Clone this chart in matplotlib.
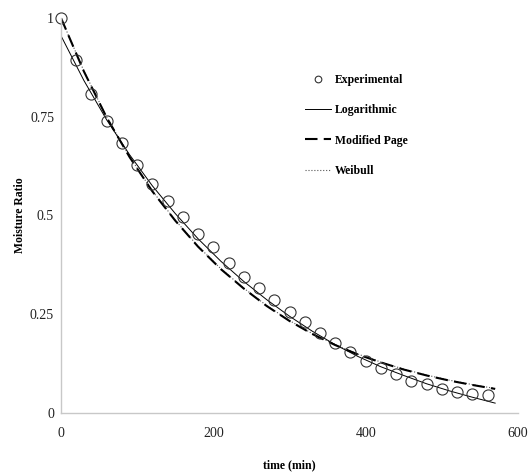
import matplotlib.pyplot as plt

# experimental drying data (every 20 min)
time_exp = [0, 20, 40, 60, 80, 100, 120, 140, 160, 180, 200, 220, 240, 260, 280,
            300, 320, 340, 360, 380, 400, 420, 440, 460, 480, 500, 520, 540, 560]
mr_exp = [1.0, 0.894, 0.808, 0.739, 0.684, 0.628, 0.580, 0.537, 0.496, 0.453,
          0.419, 0.380, 0.345, 0.316, 0.286, 0.256, 0.230, 0.203, 0.176, 0.154,
          0.132, 0.113, 0.099, 0.082, 0.073, 0.062, 0.054, 0.049, 0.045]

# model curves (every 30 min)
time_fit = [0, 30, 60, 90, 120, 150, 180, 210, 240, 270, 300, 330, 360, 390,
            420, 450, 480, 510, 540, 570]
mr_log = [0.955, 0.842, 0.742, 0.654, 0.575, 0.505, 0.441, 0.384, 0.333, 0.287,
          0.245, 0.207, 0.173, 0.143, 0.117, 0.095, 0.074, 0.056, 0.040, 0.025]
mr_page = [1.0, 0.865, 0.748, 0.648, 0.561, 0.487, 0.421, 0.364, 0.315, 0.271,
           0.233, 0.200, 0.172, 0.148, 0.128, 0.110, 0.095, 0.082, 0.071, 0.061]
mr_weibull = [1.0, 0.866, 0.749, 0.649, 0.562, 0.488, 0.422, 0.365, 0.316, 0.272,
              0.234, 0.201, 0.173, 0.149, 0.129, 0.111, 0.096, 0.083, 0.072, 0.062]

plt.rcParams['font.family'] = ['Liberation Serif', 'DejaVu Serif']

fig = plt.figure(figsize=(5.28, 4.73), dpi=100)
ax = fig.add_axes([61 / 528, 1 - 413 / 473, 457 / 528, 395 / 473])

ax.plot(time_fit, mr_weibull, color='#555555', linestyle=':', linewidth=0.8, label='Weibull')
ax.plot(time_fit, mr_page, color='black', linestyle=(0, (6, 3)), linewidth=1.5, label='Modified Page')
ax.plot(time_fit, mr_log, color='black', linestyle='-', linewidth=0.7, label='Logarithmic')
ax.plot(time_exp, mr_exp, linestyle='none', marker='o', markersize=8, markerfacecolor='none',
        markeredgecolor='#333333', markeredgewidth=0.8, label='Experimental', clip_on=False)

ax.set_xlim(0, 600)
ax.set_ylim(0, 1)
ax.set_xticks([0, 200, 400, 600])
ax.set_yticks([0, 0.25, 0.5, 0.75, 1])
ax.set_yticklabels(['0', '0.25', '0.5', '0.75', '1'])
ax.tick_params(axis='both', length=0, labelsize=10, colors='#222222')
ax.tick_params(axis='x', pad=10)
ax.tick_params(axis='y', pad=5)

for side in ['top', 'right']:
    ax.spines[side].set_visible(False)
for side in ['left', 'bottom']:
    ax.spines[side].set_color('#c8c8c8')
    ax.spines[side].set_linewidth(1.0)

ax.set_xlabel('time (min)', fontsize=8.5, fontweight='bold', labelpad=14)
ax.set_ylabel('Moisture Ratio', fontsize=8.5, fontweight='bold', labelpad=2.5)

handles, labels = ax.get_legend_handles_labels()
order = [3, 2, 1, 0]
ax.legend([handles[i] for i in order], [labels[i] for i in order],
          loc='upper left', bbox_to_anchor=(305 / 528, 1 - 74 / 473),
          bbox_transform=fig.transFigure, frameon=False, borderpad=0,
          borderaxespad=0, labelspacing=1.55, handlelength=2.2,
          handletextpad=0.3, markerscale=0.6,
          prop={'size': 8.5, 'weight': 'bold'})

plt.savefig('out.png', dpi=100)
plt.close()
